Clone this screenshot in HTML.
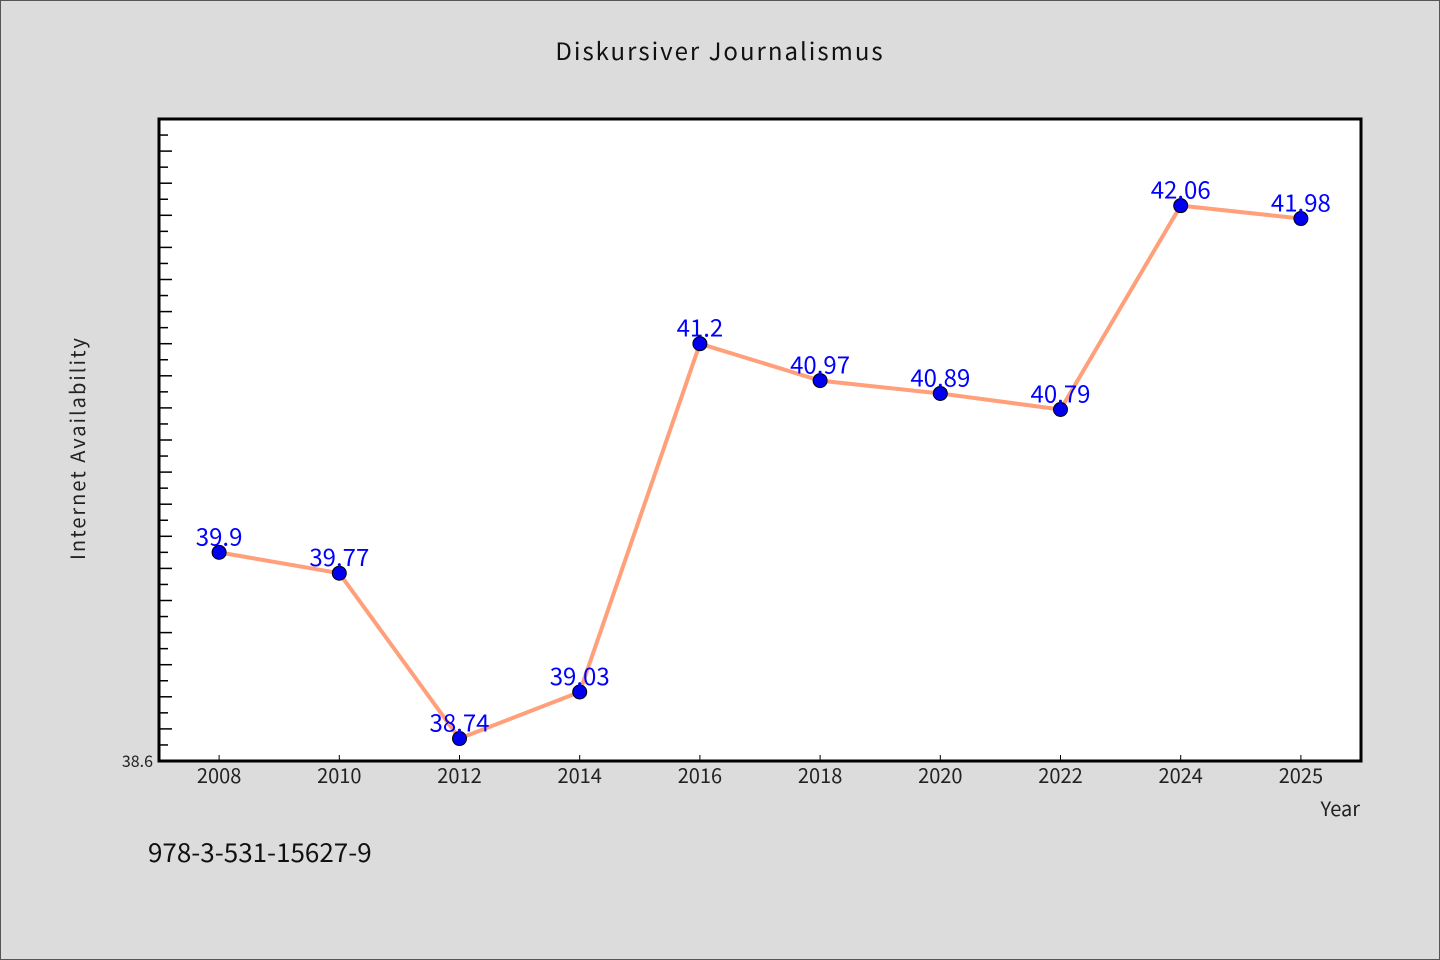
<!DOCTYPE html>
<html><head><meta charset="utf-8"><style>
body{margin:0;background:#dcdcdc;}
svg{display:block;font-family:"WenQuanYi Zen Hei","Noto Sans CJK SC",sans-serif;}
</style></head><body>
<svg id="c" width="1440" height="960" xmlns="http://www.w3.org/2000/svg">
<rect x="0.5" y="0.5" width="1439" height="959" fill="#dcdcdc" stroke="#555"/>
<text x="720" y="60" text-anchor="middle" font-size="24" letter-spacing="2" fill="#111">Diskursiver Journalismus</text>
<rect x="159" y="119" width="1202" height="642" fill="#fff"/>
<g id="ticks"></g>
<path d="M159,119H1361V761H159Z" fill="none" stroke="#000" stroke-width="3"/>
<g id="series"></g>
<text x="85" y="448" transform="rotate(-90 85 448)" text-anchor="middle" font-size="20" letter-spacing="2" fill="#222">Internet Availability</text>
<text x="1360" y="816" text-anchor="end" font-size="20" fill="#222">Year</text>
<text x="148" y="862" font-size="26" fill="#111">978-3-531-15627-9</text>
<text x="153" y="767" text-anchor="end" font-size="16" fill="#222">38.6</text>
</svg>
<script>
const categories=["2008","2010","2012","2014","2016","2018","2020","2022","2024","2025"];
const values=[39.9,39.77,38.74,39.03,41.2,40.97,40.89,40.79,42.06,41.98];
const valueLabels=["39.9","39.77","38.74","39.03","41.2","40.97","40.89","40.79","42.06","41.98"];
const yMin=38.6,yMax=42.6;
const L=159,R=1361,T=119,B=761;
const ns="http://www.w3.org/2000/svg";
function y(v){return B-(v-yMin)/(yMax-yMin)*(B-T);}
function x(i){const w=(R-L)/categories.length;return L+w*(i+0.5);}
function mk(t,a,p){const e=document.createElementNS(ns,t);for(const k in a)e.setAttribute(k,a[k]);p.appendChild(e);return e;}
const tk=document.getElementById('ticks'),sr=document.getElementById('series');
for(let k=1;k<40;k++){const v=yMin+k*0.1;const len=k%2==0?13:9;
 const l=mk('line',{x1:L,x2:L+len,y1:y(v),y2:y(v),stroke:'#000','stroke-width':1.5},tk);
 
 }
categories.forEach((c,i)=>{
 const l=mk('line',{x1:x(i),x2:x(i),y1:B-6,y2:B,stroke:'#000','stroke-width':1},tk);
 
 
 const t=mk('text',{x:x(i),y:B+22,'text-anchor':'middle','font-size':20,fill:'#222'},tk);
 t.textContent=c;
 
 
});
const pl=mk('polyline',{points:values.map((v,i)=>x(i)+','+y(v)).join(' '),fill:'none',stroke:'#ffa07a','stroke-width':4,'stroke-linejoin':'round'},sr);


values.forEach((v,i)=>{
 const c=mk('circle',{cx:x(i),cy:y(v),r:7,fill:'#0000ee',stroke:'#000','stroke-width':1},sr);
 
 
 const t=mk('text',{x:x(i),y:y(v)-7,'text-anchor':'middle','font-size':24,fill:'#0000ff'},sr);
 t.textContent=valueLabels[i];
 
 
});
</script>
</body></html>
